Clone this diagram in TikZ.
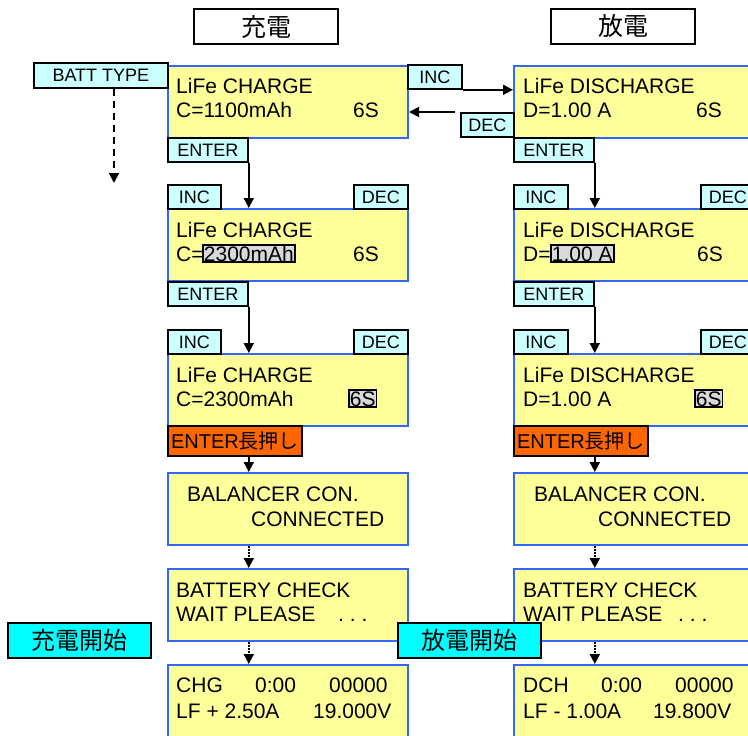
\documentclass[tikz,border=0pt]{standalone}
\usepackage{fontspec}
\setmainfont{Liberation Sans}
\newfontfamily\jp{Noto Sans CJK JP}
\usetikzlibrary{positioning, arrows.meta}
\definecolor{lcdYellow}{HTML}{FFFF99}
\definecolor{lcdBlue}{HTML}{3366FF}
\definecolor{keyCyan}{HTML}{CCFFFF}
\definecolor{selGray}{HTML}{D9D9D9}
\definecolor{longOrange}{HTML}{FF6600}
\definecolor{startCyan}{HTML}{00FFFF}
\tikzset{
  lcd/.style={draw=lcdBlue, fill=lcdYellow, line width=2pt, minimum width=240pt,
              minimum height=72pt, inner sep=0pt, anchor=north west},
  key/.style={draw=black, fill=keyCyan, line width=1.8pt, minimum height=24pt,
              inner sep=0pt, anchor=north west, font=\fontsize{18}{20}\selectfont},
  longkey/.style={key, fill=longOrange, minimum width=134pt, minimum height=30pt,
              font=\fontsize{20}{22}\selectfont},
  head/.style={draw=black, fill=white, line width=2pt, minimum width=144pt,
              minimum height=35pt, inner sep=0pt, anchor=north west, font=\jp\fontsize{25}{27}\selectfont},
  startbox/.style={draw=black, fill=startCyan, line width=2.2pt, minimum width=143pt,
              minimum height=35pt, inner sep=0pt, anchor=north west, font=\jp\fontsize{24}{26}\selectfont},
  txt/.style={anchor=base west, inner sep=0pt, font=\fontsize{21}{24}\selectfont},
  sel/.style={txt, draw=black, fill=selGray, line width=1.8pt, inner sep=1pt},
  arr/.style={-{Triangle[width=10pt,length=10pt]}, line width=1.8pt},
  arrdot/.style={arr, dash pattern=on 1.5pt off 1.5pt},
  arrdash/.style={arr, dash pattern=on 7pt off 5pt},
}

\begin{document}
\begin{tikzpicture}[x=1pt, y=-1pt]
  \path[use as bounding box, clip] (0,0) rectangle (748,736);
  % column headers
  \node[head] (hdChg) at (193,8) {充電};
  \node[head] (hdDis) at (550,8) {放電};
  % charge column
  \node[lcd] (chg1) at (167,65) {};
  \node[lcd] (chg2) at (167,208) {};
  \node[lcd] (chg3) at (167,353) {};
  \node[lcd] (chg4) at (167,472) {};
  \node[lcd] (chg5) at (167,568) {};
  \node[lcd] (chg6) at (167,664) {};
  % discharge column
  \node[lcd] (dis1) at (513,65) {};
  \node[lcd] (dis2) at (513,208) {};
  \node[lcd] (dis3) at (513,353) {};
  \node[lcd] (dis4) at (513,472) {};
  \node[lcd] (dis5) at (513,568) {};
  \node[lcd] (dis6) at (513,664) {};
  % charge texts
  \node[txt] (c1a) at (176,93) {LiFe CHARGE};
  \node[txt] (c1b) at (176,117) {C=1100mAh};
  \node[txt] (c1c) at (353,117) {6S};
  \node[txt] (c2a) at (176,237) {LiFe CHARGE};
  \node[txt] (c2b) at (176,261) {C=};
  \node[sel] (c2c) at (202,261) {2300mAh};
  \node[txt] (c2d) at (353,261) {6S};
  \node[txt] (c3a) at (176,382) {LiFe CHARGE};
  \node[txt] (c3b) at (176,406) {C=2300mAh};
  \node[sel] (c3c) at (348,406) {6S};
  \node[txt] (c4a) at (187,501) {BALANCER CON.};
  \node[txt] (c4b) at (251,526) {CONNECTED};
  \node[txt] (c5a) at (176,597) {BATTERY CHECK};
  \node[txt] (c5b) at (176,621) {WAIT PLEASE};
  \node[txt] (c5c) at (338,621) {.\ .\ .};
  \node[txt] (c6a) at (176,692) {CHG};
  \node[txt] (c6b) at (255,692) {0:00};
  \node[txt] (c6c) at (329,692) {00000};
  \node[txt] (c6d) at (176,718) {LF + 2.50A};
  \node[txt] (c6e) at (313,718) {19.000V};
  % discharge texts
  \node[txt] (d1a) at (523,93) {LiFe DISCHARGE};
  \node[txt] (d1b) at (523,117) {D=1.00 A};
  \node[txt] (d1c) at (696,117) {6S};
  \node[txt] (d2a) at (523,237) {LiFe DISCHARGE};
  \node[txt] (d2b) at (523,261) {D=};
  \node[sel] (d2c) at (550,261) {1.00 A};
  \node[txt] (d2d) at (697,261) {6S};
  \node[txt] (d3a) at (523,382) {LiFe DISCHARGE};
  \node[txt] (d3b) at (523,406) {D=1.00 A};
  \node[sel] (d3c) at (694,406) {6S};
  \node[txt] (d4a) at (534,501) {BALANCER CON.};
  \node[txt] (d4b) at (598,526) {CONNECTED};
  \node[txt] (d5a) at (523,597) {BATTERY CHECK};
  \node[txt] (d5b) at (523,621) {WAIT PLEASE};
  \node[txt] (d5c) at (678,621) {.\ .\ .};
  \node[txt] (d6a) at (523,692) {DCH};
  \node[txt] (d6b) at (601,692) {0:00};
  \node[txt] (d6c) at (675,692) {00000};
  \node[txt] (d6d) at (523,718) {LF - 1.00A};
  \node[txt] (d6e) at (653,718) {19.800V};
  % keys
  \node[key, minimum width=134pt, minimum height=25pt] (batt) at (33,62) {BATT TYPE};
  \coordinate (battEnd) at (114,183);
  \node[key, minimum width=54pt] (incMid) at (407,64) {INC};
  \node[key, minimum width=53pt] (decMid) at (460,112) {DEC};
  \node[key, minimum width=80pt] (ent1) at (167,137) {ENTER};
  \node[key, minimum width=53pt] (inc2) at (167,184) {INC};
  \node[key, minimum width=54pt] (dec2) at (353,184) {DEC};
  \node[key, minimum width=80pt] (ent2) at (167,281) {ENTER};
  \node[key, minimum width=53pt] (inc3) at (167,329) {INC};
  \node[key, minimum width=54pt] (dec3) at (353,329) {DEC};
  \node[longkey] (long1) at (167,425) {ENTER{\jp 長押し}};
  \node[key, minimum width=80pt] (ent1R) at (513,137) {ENTER};
  \node[key, minimum width=54pt] (inc2R) at (513,184) {INC};
  \node[key, minimum width=54pt] (dec2R) at (700,184) {DEC};
  \node[key, minimum width=80pt] (ent2R) at (513,281) {ENTER};
  \node[key, minimum width=54pt] (inc3R) at (513,329) {INC};
  \node[key, minimum width=54pt] (dec3R) at (700,329) {DEC};
  \node[longkey] (long1R) at (513,425) {ENTER{\jp 長押し}};
  % start labels
  \node[startbox] (startChg) at (7,622) {充電開始};
  \node[startbox] (startDis) at (397,622) {放電開始};
  % arrows
  \draw[arrdash] (batt.south -| battEnd) -- (battEnd);
  \draw[arr] (incMid.south east) -- (incMid.south east -| dis1.west);
  \draw[arr] ([xshift=-5pt]decMid.north west) -- (decMid.north west -| chg1.east);
  \draw[arr] (ent1.south east) -- (ent1.south east |- chg2.north);
  \draw[arr] (ent2.south east) -- (ent2.south east |- chg3.north);
  \draw[arr] (ent2.east |- long1.south) -- (ent2.east |- chg4.north);
  \draw[arrdot] (ent2.east |- chg4.south) -- (ent2.east |- chg5.north);
  \draw[arrdot] (ent2.east |- chg5.south) -- (ent2.east |- chg6.north);
  \draw[arr] (ent1R.south east) -- (ent1R.south east |- dis2.north);
  \draw[arr] (ent2R.south east) -- (ent2R.south east |- dis3.north);
  \draw[arr] (ent2R.east |- long1R.south) -- (ent2R.east |- dis4.north);
  \draw[arrdot] (ent2R.east |- dis4.south) -- (ent2R.east |- dis5.north);
  \draw[arrdot] (ent2R.east |- dis5.south) -- (ent2R.east |- dis6.north);
\end{tikzpicture}
\end{document}
